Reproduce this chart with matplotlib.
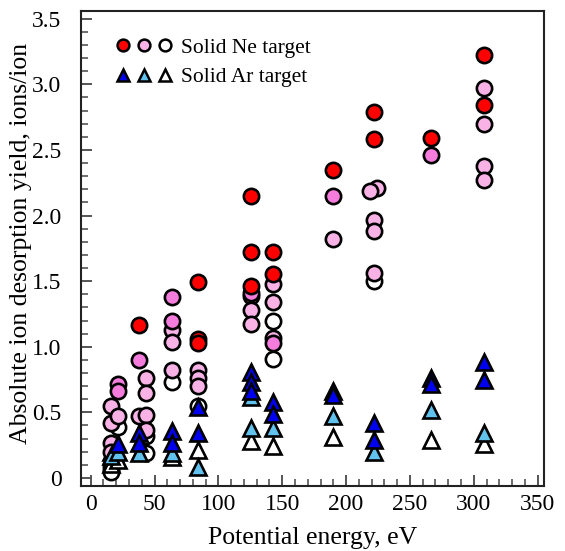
import matplotlib
matplotlib.use("Agg")
import matplotlib.pyplot as plt
from matplotlib.legend_handler import HandlerTuple
from matplotlib.ticker import MultipleLocator

plt.rcParams['font.family'] = ['Liberation Serif', 'DejaVu Serif']

# Solid Ne target (circles)
ne_red_x = [38.1, 84.3, 84.3, 84.3, 125.3, 125.3, 125.3, 143, 143, 189.5, 221.8, 221.8, 266.5, 308.2, 308.2]
ne_red_y = [1.166, 1.49, 1.06, 1.03, 2.15, 1.72, 1.46, 1.72, 1.555, 2.35, 2.79, 2.58, 2.59, 3.22, 2.84]

ne_hot_x = [21.6, 21.6, 38.1, 63.4, 63.4, 125.3, 143, 189.5, 266.5]
ne_hot_y = [0.72, 0.66, 0.90, 1.377, 1.20, 1.41, 1.03, 2.15, 2.46]

ne_pink_x = [15.7, 15.7, 15.7, 15.7, 21.6, 38.1, 43.3, 43.3, 43.3, 43.3, 63.4, 63.4, 63.4,
             84.3, 84.3, 84.3, 125.3, 125.3, 125.3, 143, 143, 143, 189.5,
             224, 219, 221.8, 221.8, 221.8, 308.2, 308.2, 308.2, 308.2]
ne_pink_y = [0.55, 0.42, 0.27, 0.20, 0.47, 0.47, 0.76, 0.645, 0.48, 0.365, 1.13, 1.04, 0.82,
             0.82, 0.76, 0.70, 1.39, 1.28, 1.17, 1.48, 1.34, 1.065, 1.82,
             2.21, 2.19, 1.97, 1.88, 1.56, 2.97, 2.70, 2.38, 2.27]

ne_white_x = [15.7, 15.7, 15.7, 21.6, 43.3, 43.3, 63.4, 84.3, 143, 143, 221.8]
ne_white_y = [0.10, 0.07, 0.045, 0.39, 0.32, 0.19, 0.73, 0.55, 1.20, 0.905, 1.50]

# Solid Ar target (triangles)
ar_blue_x = [21.6, 38.1, 38.1, 63.4, 63.4, 84.3, 84.3, 125.3, 125.3, 125.3, 143, 143,
             189.5, 189.5, 221.8, 221.8, 266.5, 266.5, 308.2, 308.2]
ar_blue_y = [0.26, 0.34, 0.27, 0.36, 0.27, 0.54, 0.34, 0.81, 0.73, 0.66, 0.58, 0.49,
             0.665, 0.63, 0.42, 0.29, 0.76, 0.72, 0.886, 0.75]

ar_light_x = [15.7, 21.6, 38.1, 63.4, 84.3, 125.3, 125.3, 143, 189.5, 221.8, 266.5, 308.2]
ar_light_y = [0.17, 0.20, 0.19, 0.19, 0.08, 0.62, 0.38, 0.38, 0.47, 0.20, 0.52, 0.34]

ar_white_x = [15.7, 15.7, 21.6, 63.4, 84.3, 125.3, 143, 189.5, 266.5, 308.2]
ar_white_y = [0.20, 0.11, 0.14, 0.16, 0.21, 0.28, 0.24, 0.31, 0.29, 0.26]

RED = '#ff0000'
HOT = '#f47cdc'
PINK = '#f8b2e6'
BLUE = '#0000f0'
LBLUE = '#62c2ee'

fig = plt.figure(figsize=(5.65, 5.51), dpi=100)
ax = fig.add_axes([0.1434, 0.118, 0.8195, 0.862])

ms_c = 11
ms_t = 12
ew = 1.9

def pts(x, y, marker, face, ms, z):
    ax.plot(x, y, linestyle='none', marker=marker, markersize=ms,
            markerfacecolor=face, markeredgecolor='black', markeredgewidth=ew, zorder=z)

pts(ne_white_x, ne_white_y, 'o', 'white', ms_c, 3)
pts(ne_pink_x, ne_pink_y, 'o', PINK, ms_c, 4)
pts(ne_hot_x, ne_hot_y, 'o', HOT, ms_c, 5)
pts(ne_red_x, ne_red_y, 'o', RED, ms_c, 6)
pts(ar_white_x, ar_white_y, '^', 'white', ms_t, 3)
pts(ar_light_x, ar_light_y, '^', LBLUE, ms_t, 4)
pts(ar_blue_x, ar_blue_y, '^', BLUE, ms_t, 5)

# legend handles
lk = dict(linestyle='none', markeredgecolor='black', markeredgewidth=1.8, markersize=8.5)
c1, = ax.plot([], [], marker='o', markerfacecolor=RED, **lk)
c2, = ax.plot([], [], marker='o', markerfacecolor=PINK, **lk)
c3, = ax.plot([], [], marker='o', markerfacecolor='white', **lk)
t1, = ax.plot([], [], marker='^', markerfacecolor=BLUE, **lk)
t2, = ax.plot([], [], marker='^', markerfacecolor=LBLUE, **lk)
t3, = ax.plot([], [], marker='^', markerfacecolor='white', **lk)
ax.legend([(c1, c2, c3), (t1, t2, t3)], ['Solid Ne target', 'Solid Ar target'],
          handler_map={tuple: HandlerTuple(ndivide=None, pad=0.33)},
          loc='upper left', bbox_to_anchor=(0.0756, 0.944), frameon=False,
          borderpad=0, borderaxespad=0,
          fontsize=15.5, handlelength=2.6, handletextpad=0.42, labelspacing=0.45)

ax.set_xlim(-7.6, 355)
ax.set_ylim(-0.061, 3.559)
ax.xaxis.set_major_locator(MultipleLocator(50))
ax.xaxis.set_minor_locator(MultipleLocator(10))
ax.yaxis.set_minor_locator(MultipleLocator(0.1))
ax.set_yticks([0, 0.5, 1.0, 1.5, 2.0, 2.5, 3.0, 3.5])
ax.set_yticklabels(['0', '0.5', '1.0', '1.5', '2.0', '2.5', '3.0', '3.5'])

ax.tick_params(which='both', direction='in', top=False, right=False, labelsize=17,
               color='#555555')
ax.tick_params(which='major', length=7.7, width=1.4)
ax.tick_params(which='minor', length=4.8, width=1.2)
ax.tick_params(axis='y', pad=14)
ax.tick_params(axis='x', pad=6)
for s in ax.spines.values():
    s.set_linewidth(1.5)
    s.set_color('#222222')

ax.set_xlabel('Potential energy, eV', fontsize=18.5, labelpad=8.5)
ax.set_ylabel('Absolute ion desorption yield, ions/ion', fontsize=18.5)
ax.yaxis.set_label_coords(-0.106, 0.51)

fig.savefig('out.png', dpi=100)
